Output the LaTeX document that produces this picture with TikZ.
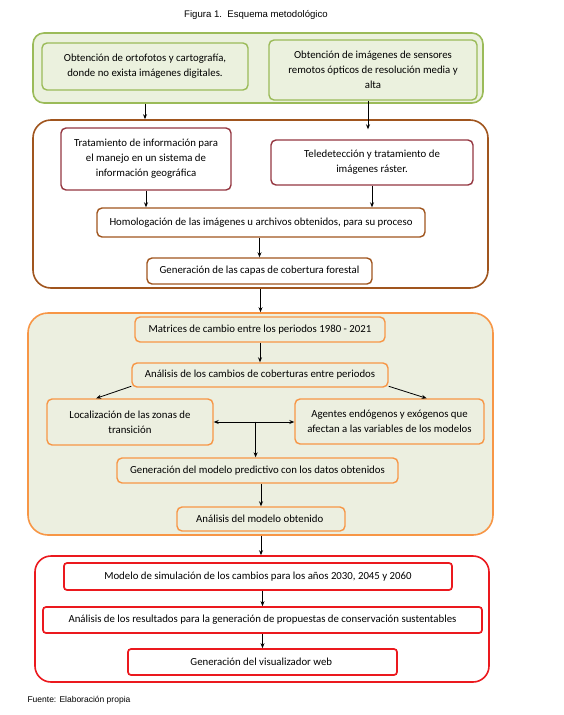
\documentclass[tikz,border=0pt]{standalone}
\usepackage{fontspec}
\setmainfont{Carlito}
\newfontfamily\arialfont{Liberation Sans}
\usetikzlibrary{arrows.meta,calc}

\definecolor{verdeBorde}{RGB}{155,187,89}
\definecolor{verdeFondo}{RGB}{235,241,222}
\definecolor{cafeBorde}{RGB}{160,85,30}
\definecolor{vinoBorde}{RGB}{149,55,65}
\definecolor{naranjaBorde}{RGB}{247,150,70}
\definecolor{beigeFondo}{RGB}{236,239,224}
\definecolor{rojoBorde}{RGB}{235,25,30}

\tikzset{
    grupo/.style={draw, line width=1.6pt, rounded corners=14pt, inner sep=0pt},
    caja/.style={draw, line width=1.4pt, rounded corners=5pt, inner sep=2pt,
        align=center, font=\fontsize{10.8}{15}\selectfont},
    flecha/.style={-{Stealth[length=5pt,width=4pt]}, line width=0.8pt},
}

\begin{document}
\begin{tikzpicture}[x=1pt,y=-1pt]
    \useasboundingbox (0,0) rectangle (564,715);

    %titulo
    \node[font=\arialfont\fontsize{9.6}{11}\selectfont] (titulo) at (256,15)
        {Figura 1.\ \ Esquema metodológico};

    %grupo 1
    \node[grupo, draw=verdeBorde, fill=verdeFondo, minimum width=450, minimum height=70,
        rounded corners=11pt] (grupoA) at (258,68) {};
    \node[caja, draw=verdeBorde, fill=verdeFondo, minimum width=206, minimum height=47]
        (A) at (145,66.5)
        {Obtención de ortofotos y cartografía,\\donde no exista imágenes digitales.};
    \node[caja, draw=verdeBorde, fill=verdeFondo, minimum width=208, minimum height=60]
        (B) at (373,70)
        {Obtención de imágenes de sensores\\remotos ópticos de resolución media y\\alta};

    %grupo 2
    \node[grupo, draw=cafeBorde, fill=white, minimum width=455, minimum height=168,
        rounded corners=18pt] (grupoB) at (260.5,204) {};
    \node[caja, draw=vinoBorde, minimum width=170, minimum height=62] (C)
        at (146,159) {Tratamiento de información para\\el manejo en un sistema de\\información geográfica};
    \node[caja, draw=vinoBorde, minimum width=202, minimum height=45] (D)
        at (372,162.5) {Teledetección y tratamiento de\\imágenes ráster.};
    \node[caja, draw=cafeBorde, minimum width=328, minimum height=29] (E) at (261,222.5)
        {Homologación de las imágenes u archivos obtenidos, para su proceso};
    \node[caja, draw=cafeBorde, minimum width=225, minimum height=26] (F) at (259.5,271)
        {Generación de las capas de cobertura forestal};

    %grupo 3
    \node[grupo, draw=naranjaBorde, fill=beigeFondo, minimum width=465, minimum height=222,
        rounded corners=20pt] (grupoC) at (260.5,424) {};
    \foreach \nome/\x/\y/\w/\h/\texto in {
        G/260/329.5/250/25/{Matrices de cambio entre los periodos 1980 - 2021},
        H/260/375/256/24/{Análisis de los cambios de coberturas entre periodos},
        K/257.5/470.5/281/25/{Generación del modelo predictivo con los datos obtenidos},
        L/261/519/168/24/{Análisis del modelo obtenido}
    } {
        \node[caja, draw=naranjaBorde, fill=beigeFondo, minimum width=\w, minimum height=\h]
            (\nome) at (\x,\y) {\texto};
    }
    \node[caja, draw=naranjaBorde, fill=beigeFondo, minimum width=166, minimum height=46]
        (I) at (130,422) {Localización de las zonas de\\transición};
    \node[caja, draw=naranjaBorde, fill=beigeFondo, minimum width=189, minimum height=45]
        (J) at (389.5,421.5)
        {Agentes endógenos y exógenos que\\afectan a las variables de los modelos};

    %grupo 4
    \node[grupo, draw=rojoBorde, fill=white, minimum width=454, minimum height=126,
        rounded corners=16pt] (grupoD) at (262,619) {};
    \foreach \nome/\x/\y/\w/\h/\texto in {
        M/258/576.5/388/27/{Modelo de simulación de los cambios para los años 2030, 2045 y 2060},
        N/262.5/620/439/26/{Análisis de los resultados para la generación de propuestas de conservación sustentables},
        O/262.5/662/269/26/{Generación del visualizador web}
    } {
        \node[caja, draw=rojoBorde, line width=1.7pt, rounded corners=3pt,
            minimum width=\w, minimum height=\h] (\nome) at (\x,\y) {\texto};
    }

    %flechas
    \draw[flecha] (A |- grupoA.south) -- (A |- grupoB.north);
    \draw[flecha, shorten >=10pt] ([xshift=-5pt]B.south) -- ([xshift=-5pt]B.south |- D.north);
    \foreach \de/\para in {C/E, D/E} {
        \draw[flecha] (\de.south) -- (\de.south |- \para.north);
    }
    \draw[flecha] (E.south -| F.north) -- (F.north);
    \draw[flecha] (grupoB.south) -- (grupoB.south |- grupoC.north);
    \draw[flecha] (G.south) -- (H.north);
    \draw[flecha] (H.185) -- (I.145);
    \draw[flecha] (H.355) -- (J.32);
    \coordinate (cruce) at ($(I.east)!0.52!(J.west)$);
    \draw[{Stealth[length=5pt,width=4pt]}-{Stealth[length=5pt,width=4pt]}, line width=0.8pt]
        (I.east) -- (I.east -| J.west);
    \draw[flecha] (cruce) -- (cruce |- K.north);
    \draw[flecha] (L.north |- K.south) -- (L.north);
    \draw[flecha] (L.north |- grupoC.south) -- (L.north |- grupoD.north);
    \foreach \de/\para in {M/N, N/O} {
        \draw[flecha] (\para.north |- \de.south) -- (\para.north);
    }

    %fuente
    \node[anchor=west, font=\arialfont\fontsize{8.5}{10}\selectfont] (fuente) at (24,700)
        {Fuente: Elaboración propia};
\end{tikzpicture}
\end{document}
